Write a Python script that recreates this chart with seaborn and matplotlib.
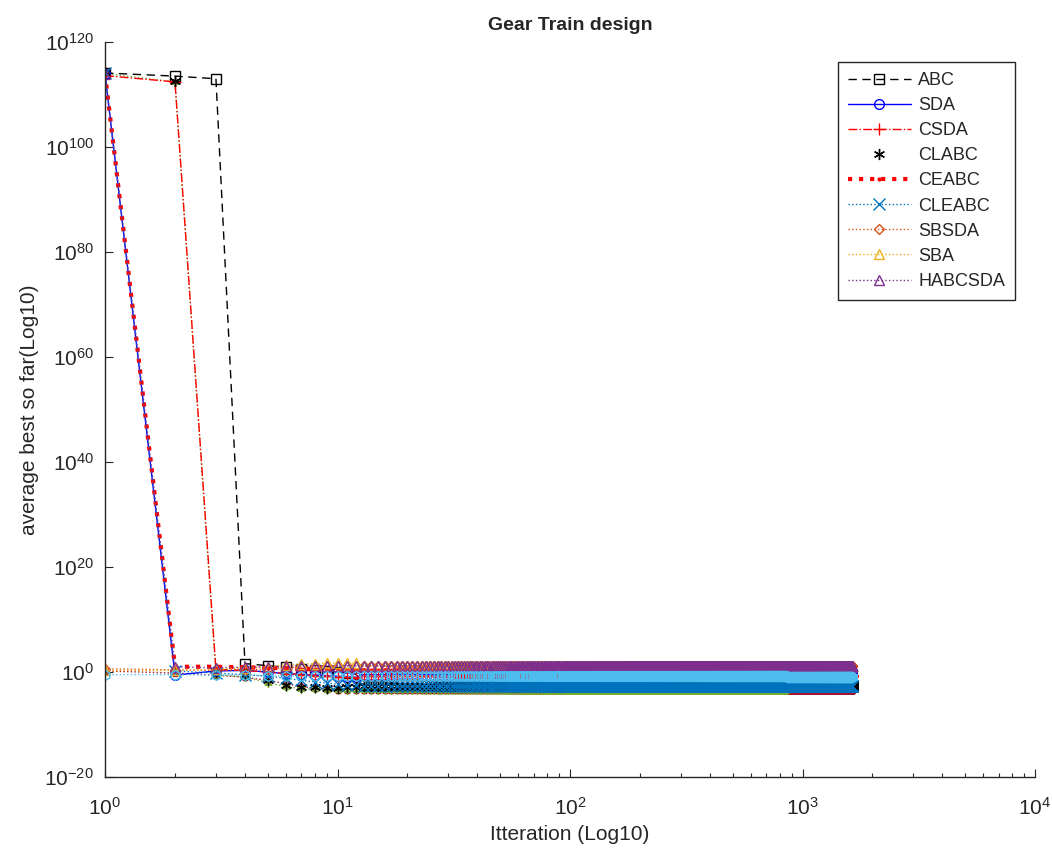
import numpy as np
import pandas as pd
import matplotlib
matplotlib.use("Agg")
import matplotlib.pyplot as plt
import seaborn as sns
from matplotlib.ticker import FixedLocator, LogFormatterSciNotation, LogLocator, NullLocator, NullFormatter

# ---------------------------------------------------------------------------
# Data: log10 of the average best-so-far value.
# Each run: values for the first twelve iterations, then the value it settles
# at, held until the given last iteration.
# ---------------------------------------------------------------------------
N_ITER = 1640

abc_head = [114.1, 113.5, 113.0, 1.6, 1.2, 0.9, 0.6, 0.4, 0.2, 0.0, -0.2, -0.4]
abc_tail = [(-2.5, N_ITER)]

sda_head = [114.0, -0.6, 0.2, 0.3, 0.0, -0.3, -0.5, -0.6, -0.7, -0.8, -0.9, -1.0]
sda_tail = [(-0.5, N_ITER)]

csda_head = [113.6, 112.4, 0.5, 0.3, 0.0, -0.3, -0.5, -0.7, -0.8, -0.9, -1.0, -1.1]
csda_tail = [(-0.8, N_ITER)]

clabc_head = [114.2, 112.6, 0.0, -0.5, -1.5, -2.5, -2.8, -2.9, -3.0, -3.0, -2.9, -2.8]
clabc_tail = [(-2.75, N_ITER)]

ceabc_head = [114.0, 1.0, 1.0, 0.9, 0.8, 0.7, 0.6, 0.5, 0.5, 0.4, 0.3, 0.3]
ceabc_tail = [(0.3, N_ITER)]

cleabc_head = [114.1, 0.2, -0.2, -0.5, -0.8, -1.2, -1.6, -1.9, -2.1, -2.3, -2.4, -2.5]
cleabc_tail = [(-2.65, N_ITER)]

sbsda_head = [0.6, 0.4, 0.3, 0.4, 0.6, 0.8, 1.0, 1.1, 1.2, 1.2, 1.2, 1.2]
sbsda_tail = [(1.15, N_ITER)]

sba_head = [0.3, 0.3, 0.5, 0.8, 1.0, 1.3, 1.5, 1.6, 1.7, 1.7, 1.7, 1.7]
sba_tail = [(1.15, N_ITER)]

habcsda_head = [114.0, 1.0, 0.8, 0.9, 1.0, 1.1, 1.2, 1.2, 1.2, 1.2, 1.2, 1.2]
habcsda_tail = [(1.15, N_ITER)]

# runs drawn without a legend entry
run10_head = [0.2, -0.2, -0.6, -1.0, -1.6, -2.2, -2.8, -3.1, -3.3, -3.35, -3.35, -3.35]
run10_tail = [(-3.4, N_ITER)]

run11_head = [114.0, 112.4, -0.5, -1.0, -2.0, -2.8, -3.2, -3.3, -3.35, -3.35, -3.35, -3.35]
run11_tail = [(-3.4, 855)]

run12_head = [-0.5, -0.5, -0.6, -0.6, -0.7, -0.8, -0.8, -0.8, -0.8, -0.8, -0.8, -0.8]
run12_tail = [(-0.8, 855), (-0.9, N_ITER)]

ASTERISK = (6, 2, 0)

# name, head, tail, colour, linestyle, marker, linewidth, marker size
runs = [
    ("_run10", run10_head, run10_tail, "#A2142F", ":", "p", 1.0, 6),
    ("_run11", run11_head, run11_tail, "#77AC30", ":", ASTERISK, 1.0, 6),
    ("ABC", abc_head, abc_tail, "black", (0, (6, 4)), "s", 1.0, 6.5),
    ("SDA", sda_head, sda_tail, "#0000FF", "-", "o", 1.0, 7),
    ("CSDA", csda_head, csda_tail, "#FF0000", "-.", "+", 1.0, 9),
    ("CLABC", clabc_head, clabc_tail, "black", "none", ASTERISK, 1.0, 8),
    ("CEABC", ceabc_head, ceabc_tail, "#FF0000", ":", ".", 3.0, 4),
    ("CLEABC", cleabc_head, cleabc_tail, "#0072BD", ":", "x", 1.0, 8.5),
    ("SBSDA", sbsda_head, sbsda_tail, "#D95319", ":", "D", 1.0, 5.5),
    ("SBA", sba_head, sba_tail, "#EDB120", ":", "^", 1.0, 7),
    ("HABCSDA", habcsda_head, habcsda_tail, "#7E2F8E", ":", "^", 1.0, 7),
    ("_run12", run12_head, run12_tail, "#4DBEEE", ":", "h", 1.0, 7),
]


def build_frame(head, tail):
    exps = list(head)
    for value, last in tail:
        exps += [value] * (last - len(exps))
    it = np.arange(1, len(exps) + 1)
    return pd.DataFrame({"iteration": it, "best": 10.0 ** np.array(exps)})


sns.set_style("ticks")
plt.rcParams["font.family"] = ["Liberation Sans", "DejaVu Sans"]
plt.rcParams["mathtext.fontset"] = "custom"
plt.rcParams["mathtext.rm"] = "Liberation Sans"
plt.rcParams["axes.unicode_minus"] = False
plt.rcParams["axes.edgecolor"] = "#262626"
plt.rcParams["xtick.color"] = "#262626"
plt.rcParams["ytick.color"] = "#262626"

fig = plt.figure(figsize=(10.52, 8.51), dpi=100)
ax = fig.add_axes([105 / 1052, 1 - 777 / 851, 930 / 1052, 735 / 851])

for name, head, tail, color, ls, mk, lw, ms in runs:
    df = build_frame(head, tail)
    face = color if mk == "." else "none"
    sns.lineplot(
        data=df, x="iteration", y="best", ax=ax, estimator=None, sort=False,
        color=color, linestyle=ls, linewidth=lw, marker=mk, markersize=ms,
        markerfacecolor=face, markeredgecolor=color, markeredgewidth=1.0,
        label=name,
    )

ax.set_xscale("log")
ax.set_yscale("log")
ax.set_xlim(1, 1e4)
ax.set_ylim(1e-20, 1e120)

ax.yaxis.set_major_locator(FixedLocator([10.0 ** e for e in range(-20, 121, 20)]))
ax.yaxis.set_major_formatter(LogFormatterSciNotation())
ax.yaxis.set_minor_locator(NullLocator())
ax.xaxis.set_major_locator(FixedLocator([1, 10, 100, 1000, 10000]))
ax.xaxis.set_major_formatter(LogFormatterSciNotation())
ax.xaxis.set_minor_locator(LogLocator(base=10, subs=np.arange(2, 10), numticks=20))
ax.xaxis.set_minor_formatter(NullFormatter())

ax.tick_params(axis="both", which="major", direction="in", length=6, width=0.8,
               labelsize=15)
ax.tick_params(axis="x", which="major", pad=14)
ax.tick_params(axis="y", which="major", pad=8)
ax.tick_params(axis="x", which="minor", direction="in", length=3, width=0.8)
sns.despine(ax=ax)
for sp in ("left", "bottom"):
    ax.spines[sp].set_linewidth(1.0)

ax.set_xlabel("Itteration (Log10)", fontsize=15, color="#262626", labelpad=5)
ax.set_ylabel("average best so far(Log10)", fontsize=15, color="#262626", labelpad=4)
ax.set_title("Gear Train design", fontsize=14, fontweight="bold", pad=9)

# legend in the order the methods are listed
h, l = ax.get_legend_handles_labels()
order = ["ABC", "SDA", "CSDA", "CLABC", "CEABC", "CLEABC", "SBSDA", "SBA", "HABCSDA"]
lookup = dict(zip(l, h))
leg = ax.legend([lookup[k] for k in order], order,
                loc="upper right", bbox_to_anchor=((1015 - 105) / 930, (777 - 62) / 735),
                borderaxespad=0, frameon=True, fancybox=False, framealpha=1,
                edgecolor="#262626", handlelength=3.5, numpoints=1, fontsize=13,
                labelspacing=0.45, borderpad=0.55, handletextpad=0.4)
leg.get_frame().set_linewidth(1.0)

fig.savefig("out.png", dpi=100)
